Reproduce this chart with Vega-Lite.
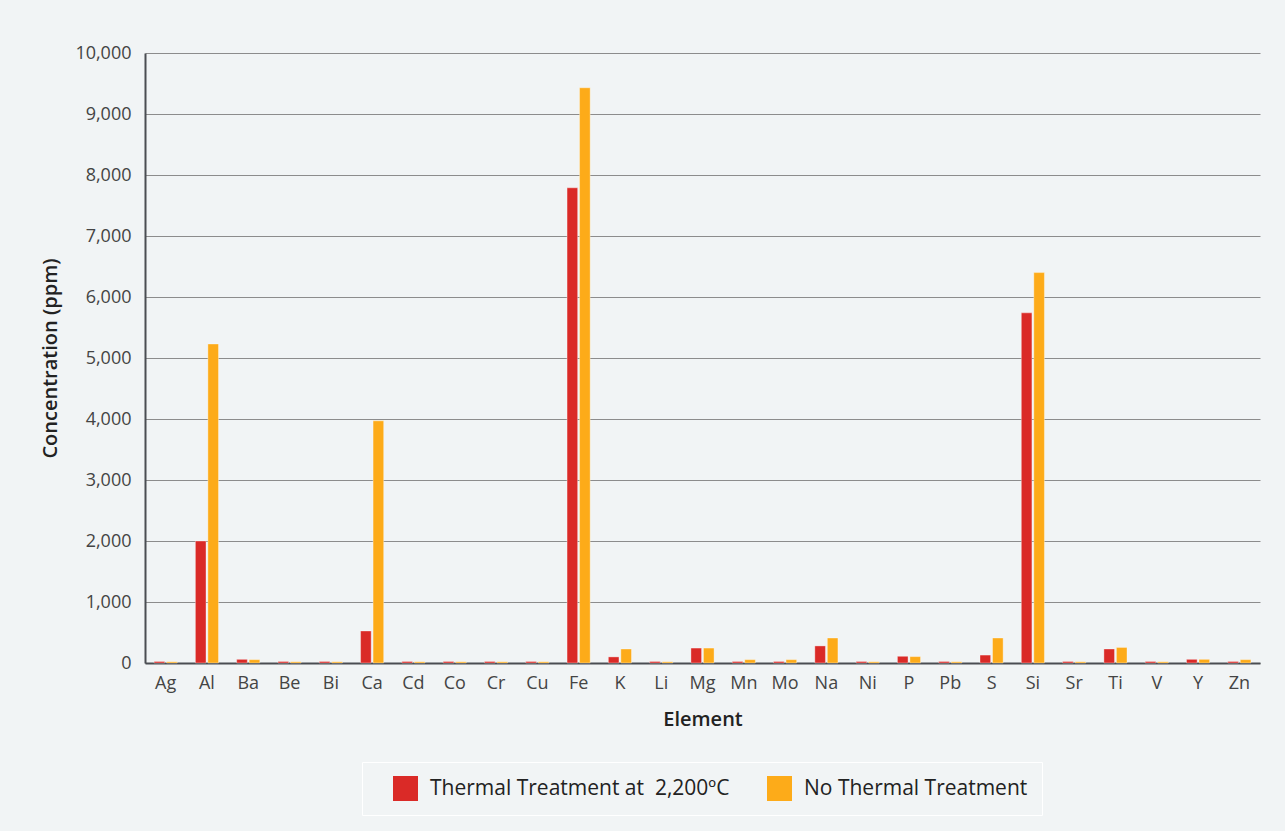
{
  "$schema": "https://vega.github.io/schema/vega-lite/v6.json",
  "autosize": {"type": "none"},
  "width": 1115,
  "height": 610,
  "padding": {"left": 145, "top": 53, "right": 25, "bottom": 168},
  "background": "#f1f4f5",
  "config": {
    "view": {"stroke": null},
    "font": "Open Sans"
  },
  "data": {
    "values": [
      {"element": "Ag", "treatment": "Thermal Treatment at\u00a0 2,200ºC", "value": 25},
      {"element": "Ag", "treatment": "No Thermal Treatment", "value": 20},
      {"element": "Al", "treatment": "Thermal Treatment at\u00a0 2,200ºC", "value": 2000},
      {"element": "Al", "treatment": "No Thermal Treatment", "value": 5230},
      {"element": "Ba", "treatment": "Thermal Treatment at\u00a0 2,200ºC", "value": 60},
      {"element": "Ba", "treatment": "No Thermal Treatment", "value": 55},
      {"element": "Be", "treatment": "Thermal Treatment at\u00a0 2,200ºC", "value": 25},
      {"element": "Be", "treatment": "No Thermal Treatment", "value": 20},
      {"element": "Bi", "treatment": "Thermal Treatment at\u00a0 2,200ºC", "value": 25},
      {"element": "Bi", "treatment": "No Thermal Treatment", "value": 20},
      {"element": "Ca", "treatment": "Thermal Treatment at\u00a0 2,200ºC", "value": 525},
      {"element": "Ca", "treatment": "No Thermal Treatment", "value": 3970},
      {"element": "Cd", "treatment": "Thermal Treatment at\u00a0 2,200ºC", "value": 25},
      {"element": "Cd", "treatment": "No Thermal Treatment", "value": 20},
      {"element": "Co", "treatment": "Thermal Treatment at\u00a0 2,200ºC", "value": 25},
      {"element": "Co", "treatment": "No Thermal Treatment", "value": 20},
      {"element": "Cr", "treatment": "Thermal Treatment at\u00a0 2,200ºC", "value": 25},
      {"element": "Cr", "treatment": "No Thermal Treatment", "value": 20},
      {"element": "Cu", "treatment": "Thermal Treatment at\u00a0 2,200ºC", "value": 25},
      {"element": "Cu", "treatment": "No Thermal Treatment", "value": 20},
      {"element": "Fe", "treatment": "Thermal Treatment at\u00a0 2,200ºC", "value": 7790},
      {"element": "Fe", "treatment": "No Thermal Treatment", "value": 9430},
      {"element": "K", "treatment": "Thermal Treatment at\u00a0 2,200ºC", "value": 100},
      {"element": "K", "treatment": "No Thermal Treatment", "value": 230},
      {"element": "Li", "treatment": "Thermal Treatment at\u00a0 2,200ºC", "value": 25},
      {"element": "Li", "treatment": "No Thermal Treatment", "value": 20},
      {"element": "Mg", "treatment": "Thermal Treatment at\u00a0 2,200ºC", "value": 245},
      {"element": "Mg", "treatment": "No Thermal Treatment", "value": 245},
      {"element": "Mn", "treatment": "Thermal Treatment at\u00a0 2,200ºC", "value": 25},
      {"element": "Mn", "treatment": "No Thermal Treatment", "value": 55},
      {"element": "Mo", "treatment": "Thermal Treatment at\u00a0 2,200ºC", "value": 25},
      {"element": "Mo", "treatment": "No Thermal Treatment", "value": 55},
      {"element": "Na", "treatment": "Thermal Treatment at\u00a0 2,200ºC", "value": 280},
      {"element": "Na", "treatment": "No Thermal Treatment", "value": 410},
      {"element": "Ni", "treatment": "Thermal Treatment at\u00a0 2,200ºC", "value": 25},
      {"element": "Ni", "treatment": "No Thermal Treatment", "value": 20},
      {"element": "P", "treatment": "Thermal Treatment at\u00a0 2,200ºC", "value": 110},
      {"element": "P", "treatment": "No Thermal Treatment", "value": 105},
      {"element": "Pb", "treatment": "Thermal Treatment at\u00a0 2,200ºC", "value": 25},
      {"element": "Pb", "treatment": "No Thermal Treatment", "value": 20},
      {"element": "S", "treatment": "Thermal Treatment at\u00a0 2,200ºC", "value": 130},
      {"element": "S", "treatment": "No Thermal Treatment", "value": 410},
      {"element": "Si", "treatment": "Thermal Treatment at\u00a0 2,200ºC", "value": 5740},
      {"element": "Si", "treatment": "No Thermal Treatment", "value": 6400},
      {"element": "Sr", "treatment": "Thermal Treatment at\u00a0 2,200ºC", "value": 25},
      {"element": "Sr", "treatment": "No Thermal Treatment", "value": 20},
      {"element": "Ti", "treatment": "Thermal Treatment at\u00a0 2,200ºC", "value": 230},
      {"element": "Ti", "treatment": "No Thermal Treatment", "value": 255},
      {"element": "V", "treatment": "Thermal Treatment at\u00a0 2,200ºC", "value": 25},
      {"element": "V", "treatment": "No Thermal Treatment", "value": 20},
      {"element": "Y", "treatment": "Thermal Treatment at\u00a0 2,200ºC", "value": 60},
      {"element": "Y", "treatment": "No Thermal Treatment", "value": 60},
      {"element": "Zn", "treatment": "Thermal Treatment at\u00a0 2,200ºC", "value": 25},
      {"element": "Zn", "treatment": "No Thermal Treatment", "value": 55}
    ]
  },
  "mark": {"type": "bar", "stroke": "#ffffff", "strokeWidth": 0.6, "strokeOpacity": 0.6},
  "encoding": {
    "x": {
      "field": "element",
      "type": "nominal",
      "sort": null,
      "title": "Element",
      "scale": {"paddingInner": 0.44, "paddingOuter": 0.22},
      "axis": {
        "labelAngle": 0,
        "labelFontSize": 18,
        "labelColor": "#444444",
        "labelPadding": 11,
        "ticks": false,
        "domainColor": "#4a4d52",
        "domainWidth": 2,
        "titleFontSize": 20,
        "titleFontWeight": 600,
        "titleColor": "#222222",
        "titlePadding": 17
      }
    },
    "xOffset": {
      "field": "treatment",
      "type": "nominal",
      "sort": ["Thermal Treatment at\u00a0 2,200ºC", "No Thermal Treatment"],
      "scale": {"paddingInner": 0.15}
    },
    "y": {
      "field": "value",
      "type": "quantitative",
      "title": "Concentration (ppm)",
      "scale": {"domain": [0, 10000], "nice": false},
      "axis": {
        "values": [0, 1000, 2000, 3000, 4000, 5000, 6000, 7000, 8000, 9000, 10000],
        "format": ",d",
        "labelFontSize": 18,
        "labelColor": "#444444",
        "labelPadding": 14,
        "ticks": false,
        "grid": true,
        "gridColor": "#8c8c8c",
        "gridWidth": 1,
        "domainColor": "#4a4d52",
        "domainWidth": 2,
        "titleFontSize": 20,
        "titleFontWeight": 600,
        "titleColor": "#222222",
        "titlePadding": 14
      }
    },
    "color": {
      "field": "treatment",
      "type": "nominal",
      "sort": ["Thermal Treatment at\u00a0 2,200ºC", "No Thermal Treatment"],
      "scale": {
        "domain": ["Thermal Treatment at\u00a0 2,200ºC", "No Thermal Treatment"],
        "range": ["#da2a27", "#fdab19"]
      },
      "legend": {
        "title": null,
        "orient": "none",
        "legendX": 217,
        "legendY": 709,
        "direction": "horizontal",
        "columns": 2,
        "symbolType": "square",
        "symbolSize": 625,
        "symbolStrokeWidth": 0,
        "symbolOffset": 17,
        "labelFontSize": 21,
        "labelColor": "#222222",
        "labelLimit": 400,
        "labelOffset": 12,
        "columnPadding": 20,
        "padding": 14,
        "strokeColor": "#ffffff",
        "encode": {"legend": {"update": {"strokeWidth": {"value": 3}}}}
      }
    }
  }
}
